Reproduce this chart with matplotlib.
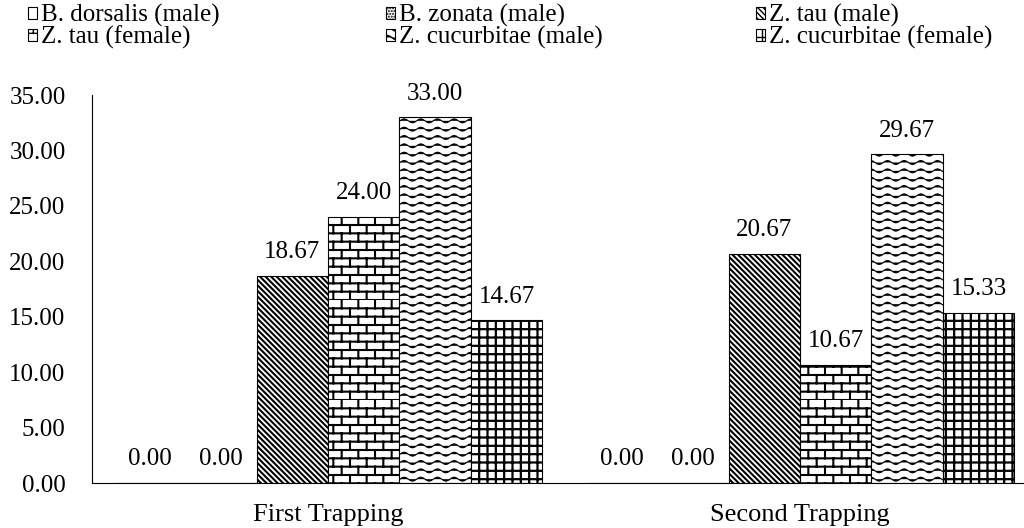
import warnings
warnings.filterwarnings("ignore")
import numpy as np
import matplotlib
matplotlib.use("Agg")
import matplotlib.pyplot as plt
import matplotlib.hatch as mhatch
from matplotlib.path import Path

# ---------------- data ----------------
categories = ["First Trapping", "Second Trapping"]
series_names = ["B. dorsalis (male)", "B. zonata (male)", "Z. tau (male)",
                "Z. tau (female)", "Z. cucurbitae (male)", "Z. cucurbitae (female)"]
dorsalis_male = [0.00, 0.00]
zonata_male = [0.00, 0.00]
tau_male = [18.67, 20.67]
tau_female = [24.00, 10.67]
cucurbitae_male = [33.00, 29.67]
cucurbitae_female = [14.67, 15.33]
series_values = [dorsalis_male, zonata_male, tau_male, tau_female,
                 cucurbitae_male, cucurbitae_female]
y_ticks = [0, 5, 10, 15, 20, 25, 30, 35]


# ---------------- custom hatch textures ----------------
class BrickHatch(mhatch.HatchPatternBase):
    def __init__(self, hatch, density):
        self.rows = 12 if "b" in hatch else 0
        self.cols = 6
        self.num_vertices = self.rows * 2 + self.rows * self.cols * 2

    def set_vertices_and_codes(self, vertices, codes):
        k = 0
        for i in range(self.rows):
            y = i / self.rows
            vertices[k] = (0, y); codes[k] = Path.MOVETO
            vertices[k + 1] = (1, y); codes[k + 1] = Path.LINETO
            k += 2
        for i in range(self.rows):
            y0 = i / self.rows
            y1 = (i + 1) / self.rows
            off = 0.5 * (i % 2)
            for j in range(self.cols):
                x = (j + off) / self.cols
                vertices[k] = (x, y0); codes[k] = Path.MOVETO
                vertices[k + 1] = (x, y1); codes[k + 1] = Path.LINETO
                k += 2


class WaveHatch(mhatch.HatchPatternBase):
    def __init__(self, hatch, density):
        self.rows = 12 if "w" in hatch else 0
        self.periods = 6
        self.npts = self.periods * 8 + 1
        self.num_vertices = self.rows * self.npts

    def set_vertices_and_codes(self, vertices, codes):
        k = 0
        xs = np.linspace(0, 1, self.npts)
        for i in range(self.rows):
            yc = (i + 0.5) / self.rows
            ys = yc + 0.02 * np.sin(2 * np.pi * self.periods * xs)
            vertices[k:k + self.npts, 0] = xs
            vertices[k:k + self.npts, 1] = ys
            codes[k] = Path.MOVETO
            codes[k + 1:k + self.npts] = Path.LINETO
            k += self.npts


mhatch._hatch_types.append(BrickHatch)
mhatch._hatch_types.append(WaveHatch)

# ---------------- figure ----------------
plt.rcParams["font.family"] = ["Liberation Serif", "DejaVu Serif"]

fig = plt.figure(figsize=(10.24, 5.28), dpi=100)
ax = fig.add_axes([0.0898, 0.0852, 0.9219, 0.7348])

hatches = [".", "......", "\\\\\\\\\\\\", "b", "w", "++"]
hatch_lw = [1.0, 0.8, 1.5, 1.5, 0.8, 1.6]

n = len(series_values)
width = 0.1513
x = np.arange(len(categories))
handles = []
for i, (vals, name) in enumerate(zip(series_values, series_names)):
    pos = x + (i - (n - 1) / 2) * width
    with plt.rc_context({"hatch.linewidth": hatch_lw[i]}):
        bars = ax.bar(pos, vals, width, facecolor="white", edgecolor="black",
                      linewidth=0.8, hatch=hatches[i], label=name)
    for b in bars:
        if hasattr(b, "set_hatch_linewidth"):
            b.set_hatch_linewidth(hatch_lw[i])
    handles.append(bars)
    for px, v in zip(pos, vals):
        ax.annotate(f"{v:.2f}", (px, v), xytext=(0, 17), textcoords="offset points",
                    ha="center", va="center", fontsize=18, color="black")

ax.set_xlim(-0.5, 1.5)
ax.set_ylim(0, 35)
ax.set_yticks(y_ticks)
ax.set_yticklabels([f"{t:.2f}" for t in y_ticks])
ax.set_xticks(x)
ax.set_xticklabels(categories)
ax.tick_params(axis="y", length=0, pad=19, labelsize=18)
ax.tick_params(axis="x", length=0, pad=15, labelsize=19)
for s in ["top", "right"]:
    ax.spines[s].set_visible(False)
for s in ["left", "bottom"]:
    ax.spines[s].set_linewidth(0.8)

# legend: three columns, two rows (row-major order as in the reference)
columns = [[0, 3], [1, 4], [2, 5]]
col_x = [28 / 1024, 386 / 1024, 756 / 1024]
for cx, col in zip(col_x, columns):
    lg = fig.legend([handles[k] for k in col], [series_names[k] for k in col],
                    ncol=1, loc="upper left", bbox_to_anchor=(cx, 1 - 4 / 528),
                    frameon=False, fontsize=18, handlelength=0.36, handleheight=0.36,
                    handletextpad=0.15, labelspacing=-0.05,
                    borderpad=0, borderaxespad=0)

fig.savefig("out.png", dpi=100)
